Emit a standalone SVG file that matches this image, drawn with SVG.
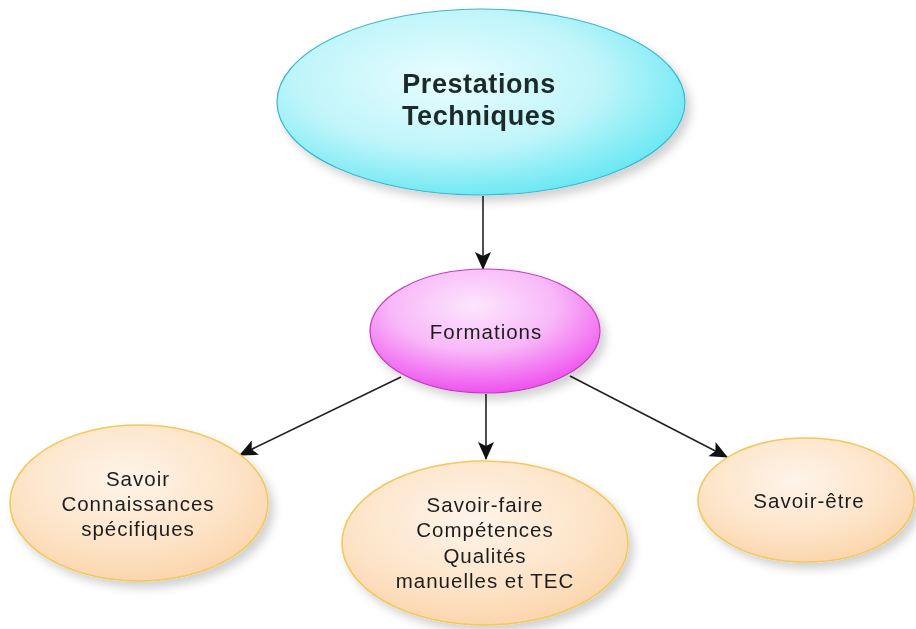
<svg xmlns="http://www.w3.org/2000/svg" width="916" height="629" viewBox="0 0 916 629">
  <defs>
    <radialGradient id="gCyan" cx="42%" cy="38%" r="68%">
      <stop offset="0" stop-color="#eafdfe"/>
      <stop offset="0.55" stop-color="#bff5fa"/>
      <stop offset="1" stop-color="#5ee6f2"/>
    </radialGradient>
    <radialGradient id="gPink" cx="45%" cy="30%" r="72%">
      <stop offset="0" stop-color="#fde6fd"/>
      <stop offset="0.5" stop-color="#f8b8f8"/>
      <stop offset="1" stop-color="#ee4cee"/>
    </radialGradient>
    <radialGradient id="gPeach" cx="45%" cy="35%" r="70%">
      <stop offset="0" stop-color="#fef4ea"/>
      <stop offset="0.6" stop-color="#fde4c8"/>
      <stop offset="1" stop-color="#fbd3a8"/>
    </radialGradient>
    <filter id="shadow" x="-20%" y="-20%" width="150%" height="150%">
      <feDropShadow dx="5" dy="6" stdDeviation="5" flood-color="#000" flood-opacity="0.18"/>
    </filter>
    <marker id="arrow" viewBox="0 0 18 16" refX="17" refY="8" markerWidth="18" markerHeight="16" markerUnits="userSpaceOnUse" orient="auto">
      <path d="M0,0 L18,8 L0,16 L4,8 Z" fill="#111"/>
    </marker>
    <style>
      .node { filter: url(#shadow); }
      .cyan { fill: url(#gCyan); stroke: #3fb6cf; stroke-width: 1.2; }
      .pink { fill: url(#gPink); stroke: #c03cc0; stroke-width: 1.2; }
      .peach { fill: url(#gPeach); stroke: #f2c95a; stroke-width: 1.6; }
      .title { font-family: "Liberation Sans", Arial, sans-serif; font-weight: bold; font-size: 27px; fill: #1a2a2a; letter-spacing: 0.6px; text-anchor: middle; }
      .label { font-family: "Liberation Sans", Arial, sans-serif; font-size: 20.5px; fill: #1e1e1e; letter-spacing: 1px; text-anchor: middle; }
      .conn line { stroke: #222; stroke-width: 1.6; marker-end: url(#arrow); }
    </style>
  </defs>

  <rect width="916" height="629" fill="#ffffff"/>

  <!-- connectors -->
  <g id="connectors" class="conn">
    <line x1="483" y1="196" x2="483" y2="269"/>
    <line x1="401" y1="377" x2="240" y2="455"/>
    <line x1="486" y1="394" x2="486" y2="459"/>
    <line x1="570" y1="376" x2="727" y2="457"/>
  </g>

  <!-- top node -->
  <g id="prestations" class="node">
    <ellipse class="cyan" cx="481" cy="102" rx="204" ry="93"/>
    <text class="title" x="479" y="93">Prestations</text>
    <text class="title" x="479" y="125">Techniques</text>
  </g>

  <!-- middle node -->
  <g id="formations" class="node">
    <ellipse class="pink" cx="485" cy="331" rx="115" ry="62"/>
    <text class="label" x="486" y="339">Formations</text>
  </g>

  <!-- leaf nodes -->
  <g id="savoir" class="node">
    <ellipse class="peach" cx="139" cy="503" rx="129" ry="78"/>
    <text class="label" x="138" y="486">Savoir</text>
    <text class="label" x="138" y="511">Connaissances</text>
    <text class="label" x="138" y="536">spécifiques</text>
  </g>

  <g id="savoir-faire" class="node">
    <ellipse class="peach" cx="485" cy="543" rx="143" ry="82"/>
    <text class="label" x="485" y="512">Savoir-faire</text>
    <text class="label" x="485" y="537">Compétences</text>
    <text class="label" x="485" y="563">Qualités</text>
    <text class="label" x="485" y="588">manuelles et TEC</text>
  </g>

  <g id="savoir-etre" class="node">
    <ellipse class="peach" cx="806" cy="500" rx="108" ry="62"/>
    <text class="label" x="809" y="508">Savoir-être</text>
  </g>
</svg>
